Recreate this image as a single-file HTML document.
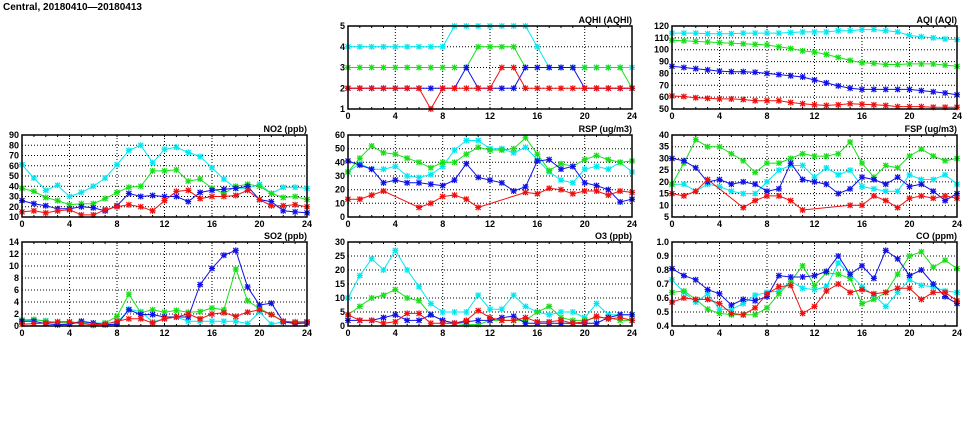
<!DOCTYPE html>
<html><head><meta charset="utf-8"><style>
body{margin:0;background:#fff;width:975px;height:447px;overflow:hidden}
svg{display:block}
text{font-family:"Liberation Sans",sans-serif;font-weight:bold;font-size:9px;fill:#000}
</style></head><body>
<svg id="s" width="975" height="447" xmlns="http://www.w3.org/2000/svg">
<text x="3" y="10" style="font-size:10px">Central, 20180410—20180413</text>
</svg>
<script>
const N=null;
const P=[
{t:"AQHI (AQHI)",x0:348,x1:632,y0:26,y1:109,min:1,max:5,ticks:[1,2,3,4,5],fmt:v=>v,
d:[[4,4,4,4,4,4,4,4,4,5,5,5,5,5,5,5,4,3,3,3,3,3,3,3,3],
[3,3,3,3,3,3,3,3,3,3,3,4,4,4,4,3,3,3,3,3,3,3,3,3,2],
[2,2,2,2,2,2,2,2,2,2,3,2,2,2,2,3,3,3,3,3,2,2,2,2,2],
[2,2,2,2,2,2,2,1,2,2,2,2,2,3,3,2,2,2,2,2,2,2,2,2,2]]},
{t:"AQI (AQI)",x0:672,x1:957,y0:26,y1:109,min:50,max:120,ticks:[50,60,70,80,90,100,110,120],fmt:v=>v,
d:[[114,114,114,113.5,113.5,113.5,114,114,114,114,114.5,115,115,115,116,116,117,117,116,115,112,111,110,109,108.5],
[108,107.5,107,106.5,106,105.5,105,104.5,104,102.5,101,99,98,96,93.5,91,89,88.5,87.5,87.5,88,88,88,87,86],
[86,85,84,83,82,81.5,81.5,81,80,79,78,77,74.5,72,69.5,67.5,66.5,66.5,66.5,66.5,66.5,65.5,64.5,63.5,62],
[61,60.5,59.5,59,58.5,58.5,58,57,57,57,55.5,54.5,53.5,53,53.5,54.5,54,53.5,53,52,52,52,51.5,51.5,51.5]]},
{t:"NO2 (ppb)",x0:22,x1:307,y0:135,y1:217,min:10,max:90,ticks:[10,20,30,40,50,60,70,80,90],fmt:v=>v,
d:[[61,48,36,41,30,34,40,48,61,75,80,63,76,78,73,69,58,47,38,38,42,33,39,39,38],
[38,35,29,26,22,23,23,28,34,39,40,55,55,56,45,47,38,33,40,42,40,33,29,30,27],
[26,23,21,18,18,20,19,16,21,33,30,31,30,30,25,34,36,37,38,40,27,25,16,15,14],
[15,16,14,16,17,12,12,17,20,22,20,16,26,35,36,28,30,30,31,36,27,21,21,22,20]]},
{t:"RSP (ug/m3)",x0:348,x1:632,y0:135,y1:217,min:0,max:60,ticks:[0,10,20,30,40,50,60],fmt:v=>v,
d:[[33,39,35,35,37,30,29,31,37,49,56,56,50,50,47,51,42,33,27,25,35,37,35,40,33],
[33,43,52,47,46,43,40,36,40,40,46,51,49,49,50,58,46,34,39,37,42,45,42,40,41],
[41,38,35,25,27,25,25,24,23,27,39,29,27,25,19,22,41,42,35,37,25,23,20,11,13],
[13,13,16,19,N,N,7,10,15,16,13,7,N,N,N,18,17,21,20,17,19,19,16,19,18]]},
{t:"FSP (ug/m3)",x0:672,x1:957,y0:135,y1:217,min:5,max:40,ticks:[5,10,15,20,25,30,35,40],fmt:v=>v,
d:[[19,19,16,19,18,16,15,15,20,25,27,27,22,26,23,25,18,17,16,16,23,21,21,23,19],
[19,28,38,35,35,32,29,24,28,28,30,32,31,31,32,37,28,22,27,26,31,34,31,29,30],
[30,29,26,20,21,19,20,19,16,17,28,21,20,19,15,17,22,21,19,22,18,19,16,12,15],
[15,14,16,21,N,N,9,12,14,14,12,8,N,N,N,10,10,14,12,9,13,14,13,14,13]]},
{t:"SO2 (ppb)",x0:22,x1:307,y0:242,y1:326,min:0,max:14,ticks:[0,2,4,6,8,10,12,14],fmt:v=>v,
d:[[0.8,1.0,0.9,0.3,0.4,0.5,0.5,0.5,0.5,2.8,2.4,0.7,1.2,1.5,0.8,0.8,0.8,0.8,0.8,0.4,2.3,0.3,0.7,0.6,0.5],
[1.0,1.1,0.8,0.6,0.6,0.6,0.1,0.5,1.6,5.3,2.2,2.7,2.3,2.6,2.3,2.4,3.0,2.7,9.5,4.2,2.9,1.9,0.7,0.7,0.7],
[0.8,0.8,0.4,0.2,0.3,0.8,0.5,0.2,0.3,2.7,1.9,1.9,1.5,1.5,1.5,6.9,9.6,11.8,12.6,6.5,3.5,3.8,0.7,0.4,0.5],
[0.3,0.4,0.5,0.7,0.7,0.4,0.2,0.3,0.8,1.2,1.2,0.5,1.2,1.5,2.0,1.2,2.0,2.2,1.6,2.3,2.7,1.9,0.8,0.6,0.7]]},
{t:"O3 (ppb)",x0:348,x1:632,y0:242,y1:326,min:0,max:30,ticks:[0,5,10,15,20,25,30],fmt:v=>v,
d:[[10,18,24,20,27,20,14,8,5,5,5,11,6,6,11,7,5,4,5,5,3,8,4,4,4],
[4,7,10,11,13,10,9,4,2,1,0.5,0.5,2,2,2,2,5,7,3,2,2,3,3,2,2],
[2,2,2,3,4,2,2,4,2,1,1.5,2,2,3,3.5,1,1,1,1,1,1,1,3,4,4],
[4,2,2,1,1.5,4.5,4.5,1,1,1,2,5.5,3,2,2,3,1.5,1.5,2,1,1.5,3.5,2.5,3,2]]},
{t:"CO (ppm)",x0:672,x1:957,y0:242,y1:326,min:0.4,max:1.0,ticks:[0.4,0.5,0.6,0.7,0.8,0.9,1.0],fmt:v=>v.toFixed(1),
d:[[.73,.64,.57,.63,.52,.52,.56,.62,.64,.65,.72,.67,.66,.68,.85,.77,.68,.62,.54,.64,.73,.69,.68,.65,.64],
[.64,.65,.59,.52,.49,.48,.48,.48,.53,.63,.72,.83,.69,.78,.77,.74,.56,.59,.64,.77,.90,.93,.82,.87,.81],
[.81,.76,.73,.66,.63,.55,.59,.58,.61,.76,.75,.75,.76,.79,.90,.77,.83,.74,.94,.88,.76,.80,.70,.61,.56],
[.57,.60,.59,.59,.56,.49,.48,.53,.63,.68,.69,.49,.54,.65,.70,.64,.66,.63,.64,.67,.67,.59,.64,.64,.58]]}
];
const C=["#00e8f0","#18e018","#1010e8","#f01010"];
let h="";
for(const p of P){
 const X=i=>p.x0+(p.x1-p.x0)*i/24, Y=v=>p.y1-(p.y1-p.y0)*(v-p.min)/(p.max-p.min);
 for(const t of p.ticks){const y=Y(t).toFixed(1);
  if(t!=p.min&&t!=p.max)h+=`<line x1="${p.x0}" x2="${p.x1}" y1="${y}" y2="${y}" stroke="#000" stroke-width="1" stroke-dasharray="1,2"/>`;
  h+=`<text x="${p.x0-3}" y="${+y+3}" text-anchor="end">${p.fmt(t)}</text>`;}
 for(let i=0;i<=24;i+=4){const x=X(i).toFixed(1);
  if(i>0&&i<24)h+=`<line x1="${x}" x2="${x}" y1="${p.y0}" y2="${p.y1}" stroke="#000" stroke-dasharray="1,2"/>`;
  h+=`<text x="${x}" y="${p.y1+10}" text-anchor="middle">${i}</text>`;}
 for(let i=1;i<24;i++){const x=X(i).toFixed(1);h+=`<line x1="${x}" x2="${x}" y1="${p.y1}" y2="${p.y1-2}" stroke="#000"/><line x1="${x}" x2="${x}" y1="${p.y0}" y2="${p.y0+2}" stroke="#000"/>`;}
 p.d.forEach((s,k)=>{
  let path="",pen=false,m="";
  s.forEach((v,i)=>{ if(v===null)return; const x=X(i),y=Y(v);
   path+=(path?"L":"M")+x.toFixed(1)+","+y.toFixed(1);
   m+=`M${x-3},${y}h6M${x},${y-3}v6M${x-2.5},${y-2.5}l5,5M${x-2.5},${y+2.5}l5,-5`;});
  h+=`<path d="${path}" fill="none" stroke="${C[k]}" stroke-width="1"/><path d="${m}" stroke="${C[k]}" stroke-width="1.2" fill="none"/>`;
 });
 h+=`<rect x="${p.x0}" y="${p.y0}" width="${p.x1-p.x0}" height="${p.y1-p.y0}" fill="none" stroke="#000" stroke-width="1.5"/>`;
 h+=`<text x="${p.x1}" y="${p.y0-3}" text-anchor="end">${p.t}</text>`;
}
document.getElementById("s").insertAdjacentHTML("beforeend",h);
</script>
</body></html>
